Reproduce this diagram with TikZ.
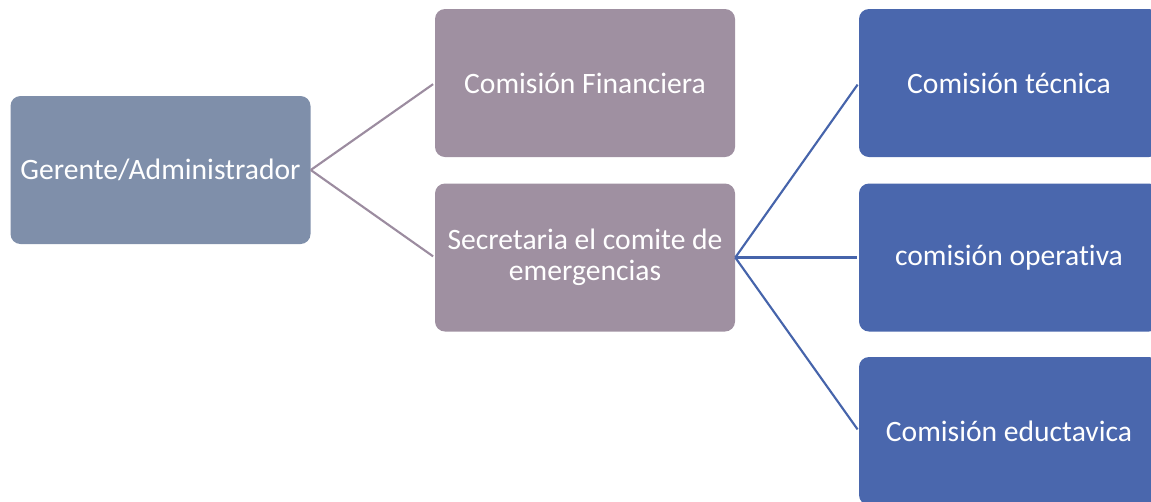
\documentclass[tikz,border=0pt]{standalone}
\usepackage{fontspec}
\setmainfont{Carlito}[Ligatures={NoCommon}]
\definecolor{cgrey}{HTML}{7F8FAA}
\definecolor{cmauve}{HTML}{9F90A1}
\definecolor{cblue}{HTML}{4A67AD}
\definecolor{lmauve}{HTML}{9C8CA0}
\definecolor{lblue}{HTML}{4664AB}
\tikzset{
  box/.style={rounded corners=10*0.75pt, minimum width=300*0.75pt, minimum height=148*0.75pt,
    inner sep=0pt, text=white, align=center, font=\fontsize{22.2pt}{23.3pt}\selectfont, draw=none},
  greybox/.style={box, fill=cgrey},
  mauvebox/.style={box, fill=cmauve},
  bluebox/.style={box, fill=cblue},
  mline/.style={draw=lmauve, line width=1.6pt, shorten >=1.5pt},
  bline/.style={draw=lblue, line width=1.6pt, shorten >=1.5pt},
}
\begin{document}
\begin{tikzpicture}[x=0.75pt, y=-0.75pt]
\useasboundingbox (0,0) rectangle (1151,501);
\clip (0,0) rectangle (1151,501);
\node[greybox] (g) at (160.5,170) {Gerente/Administrador};
\node[mauvebox] (f) at (585,83) {Comisión Financiera};
\node[mauvebox] (s) at (585,257.5) {Secretaria el comite de\\emergencias};
\node[bluebox] (t) at (1009,83) {Comisión técnica};
\node[bluebox] (o) at (1009,257.5) {comisión operativa};
\node[bluebox] (e) at (1009,431) {Comisión eductavica};
\draw[mline] (g.east) -- (f.west);
\draw[mline] (g.east) -- (s.west);
\draw[bline] (s.east) -- (t.west);
\draw[bline] (s.east) -- (o.west);
\draw[bline] (s.east) -- (e.west);
\end{tikzpicture}
\end{document}
